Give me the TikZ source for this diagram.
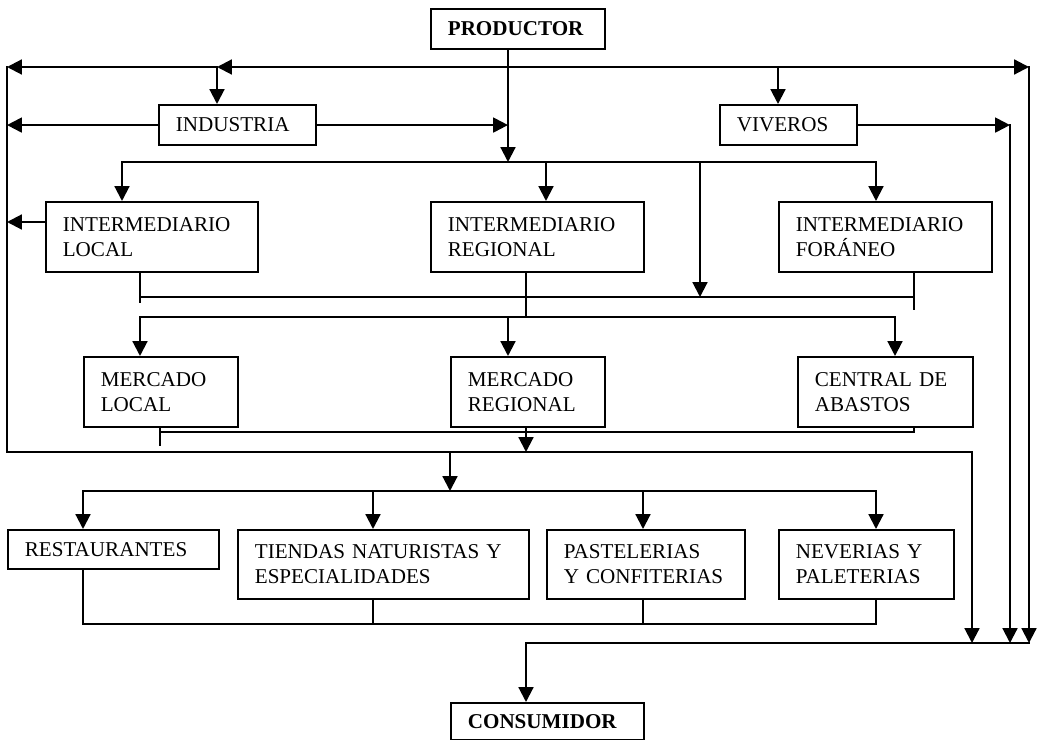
\documentclass[tikz,border=0pt]{standalone}
\usepackage{fontspec}
\setmainfont{Liberation Serif}
\usetikzlibrary{arrows.meta}

\begin{document}
\begin{tikzpicture}[x=0.025cm, y=-0.025cm]

  \tikzstyle{caja}=[draw, line width=1.5pt, anchor=north west, align=left,
    inner xsep=0.42cm, inner ysep=0pt, font=\fontsize{15}{17.8}\selectfont]
  \tikzstyle{negrita}=[font=\fontsize{15}{17.8}\selectfont\bfseries]
  \tikzstyle{linea}=[line width=1.5pt, line cap=rect]
  \tikzstyle{flecha}=[linea, -{Triangle[length=0.37cm, width=0.37cm]}]

  \useasboundingbox (0,0) rectangle (1038,740);

  % cajas
  \node[caja, negrita, text width=3.51cm, minimum height=1cm] (prod) at (430,8) {PRODUCTOR};
  \node[caja, text width=3.085cm, minimum height=1cm] (ind) at (158,104) {INDUSTRIA};
  \node[caja, text width=2.585cm, minimum height=1cm] (viv) at (719,104) {VIVEROS};

  \node[caja, text width=4.46cm, minimum height=1.75cm] (intloc) at (45,201) {INTERMEDIARIO\\LOCAL};
  \node[caja, text width=4.485cm, minimum height=1.75cm] (intreg) at (430,201) {INTERMEDIARIO\\REGIONAL};
  \node[caja, text width=4.485cm, minimum height=1.75cm] (intfor) at (778,201) {INTERMEDIARIO\\FORÁNEO};

  \node[caja, text width=3.01cm, minimum height=1.75cm] (merloc) at (83,356) {MERCADO\\LOCAL};
  \node[caja, text width=3.01cm, minimum height=1.75cm] (merreg) at (450,356) {MERCADO\\REGIONAL};
  \node[caja, text width=3.535cm, minimum height=1.75cm] (central) at (797,356) {CENTRAL DE\\ABASTOS};

  \node[caja, text width=4.435cm, minimum height=0.975cm] (rest) at (7,529) {RESTAURANTES};
  \node[caja, text width=6.435cm, minimum height=1.725cm] (tiendas) at (237,529) {TIENDAS NATURISTAS Y\\ESPECIALIDADES};
  \node[caja, text width=4.1cm, minimum height=1.725cm] (pastel) at (546,529) {PASTELERIAS\\Y CONFITERIAS};
  \node[caja, text width=3.535cm, minimum height=1.725cm] (never) at (778,529) {NEVERIAS Y\\PALETERIAS};

  \node[caja, negrita, text width=3.985cm, minimum height=0.925cm] (cons) at (450,702) {CONSUMIDOR};

  % puntos de union
  \coordinate (tL) at (7,67);
  \coordinate (tI) at (217,67);
  \coordinate (tP) at (508,67);
  \coordinate (tV) at (778,67);
  \coordinate (tR) at (1029,67);

  \coordinate (b1) at (122,162);
  \coordinate (bP) at (508,162);
  \coordinate (b2) at (546,162);
  \coordinate (b4) at (700,162);
  \coordinate (b3) at (876,162);

  \coordinate (c1L) at (140,297);
  \coordinate (c1R) at (914,297);
  \coordinate (dL) at (140,317);
  \coordinate (dP) at (508,317);
  \coordinate (dC) at (526,317);
  \coordinate (dR) at (895,317);

  \coordinate (mcL) at (160,432);
  \coordinate (mcR) at (914,432);
  \coordinate (mL) at (7,452);
  \coordinate (mB) at (450,452);
  \coordinate (mC) at (526,452);
  \coordinate (mR) at (972,452);

  \coordinate (r1) at (83,491);
  \coordinate (r2) at (373,491);
  \coordinate (r3) at (643,491);
  \coordinate (r4) at (876,491);
  \coordinate (s1) at (83,624);
  \coordinate (s4) at (876,624);

  \coordinate (k1) at (526,643);
  \coordinate (kM) at (972,643);
  \coordinate (kV) at (1010,643);
  \coordinate (kR) at (1029,643);

  % productor
  \draw[flecha] (prod.south -| tP) -- (bP);
  \draw[flecha] (tP) -- (tI);
  \draw[flecha] (tI) -- (tL);
  \draw[flecha] (tI) -- (ind.north -| tI);
  \draw[flecha] (tP) -- (tR);
  \draw[flecha] (tV) -- (viv.north -| tV);

  % industria y viveros
  \draw[flecha] (ind.west) -- (ind.west -| tL);
  \draw[flecha] (ind.east) -- (ind.east -| tP);
  \draw[flecha] (viv.east) -- (viv.east -| kV);
  \draw[flecha] (viv.east -| kV) -- (kV);
  \draw[flecha] (tR) -- (kR);

  % intermediarios
  \draw[linea] (b1) -- (b3);
  \foreach \n/\c in {intloc/b1, intreg/b2, intfor/b3}
    \draw[flecha] (\c) -- (\n.north -| \c);
  \draw[flecha] (b4) -- (b4 |- c1L);
  \coordinate (iw) at ([yshift=-0.525cm]intloc.north west);
  \draw[flecha] (iw) -- (iw -| tL);

  \draw[linea] (intloc.south -| c1L) -- (c1L) -- ++(0,5);
  \draw[linea] (c1L) -- (c1R);
  \draw[linea] (intfor.south -| c1R) -- (c1R) -- ++(0,12);
  \draw[linea] (intreg.south -| dC) -- (dC);

  % mercados
  \draw[linea] (dL) -- (dR);
  \foreach \n/\c in {merloc/dL, merreg/dP, central/dR}
    \draw[flecha] (\c) -- (\n.north -| \c);
  \draw[linea] (merloc.south -| mcL) -- (mcL) -- ++(0,13);
  \draw[linea] (mcL) -- (mcR) -- (central.south -| mcR);
  \draw[flecha] (merreg.south -| mC) -- (mC);

  % canal izquierdo
  \draw[flecha] (tL) -- (mL) -- (mR) -- (kM);
  \draw[flecha] (mB) -- (mB |- r1);

  % detallistas
  \draw[linea] (r1) -- (r4);
  \foreach \n/\c in {rest/r1, tiendas/r2, pastel/r3, never/r4}
    \draw[flecha] (\c) -- (\n.north -| \c);
  \draw[linea] (rest.south -| s1) -- (s1) -- (s4) -- (never.south -| s4);
  \draw[linea] (tiendas.south -| r2) -- (s1 -| r2);
  \draw[linea] (pastel.south -| r3) -- (s1 -| r3);

  % consumidor
  \draw[flecha] (kR) -- (k1) -- (cons.north -| k1);
\end{tikzpicture}
\end{document}
